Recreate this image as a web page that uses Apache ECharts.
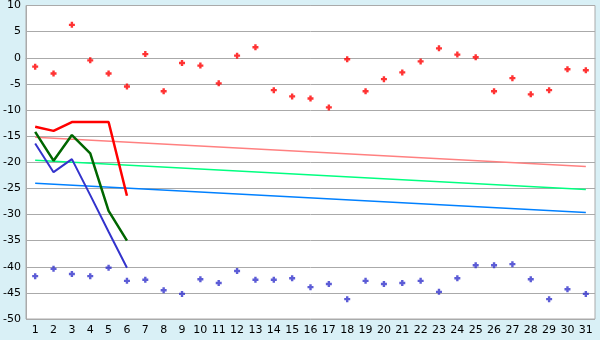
<!DOCTYPE html>
<html><head><meta charset="utf-8">
<script src="https://cdn.jsdelivr.net/npm/echarts@6/dist/echarts.min.js"></script>
<style>html,body{margin:0;padding:0;background:#d9f0f6;}#c{width:600px;height:340px;}</style>
</head><body><div id="c"></div>
<script>
const categories = ['1','2','3','4','5','6','7','8','9','10','11','12','13','14','15','16','17','18','19','20','21','22','23','24','25','26','27','28','29','30','31'];
const redPoints = [-1.7,-3.0,6.3,-0.5,-3.0,-5.5,0.7,-6.4,-1.0,-1.5,-4.9,0.4,2.0,-6.2,-7.4,-7.8,-9.5,-0.3,-6.4,-4.1,-2.8,-0.7,1.8,0.6,0.1,-6.4,-3.9,-7.0,-6.2,-2.2,-2.4];
const bluePoints = [-41.8,-40.4,-41.4,-41.8,-40.2,-42.7,-42.5,-44.5,-45.2,-42.4,-43.1,-40.8,-42.5,-42.5,-42.2,-43.9,-43.3,-46.2,-42.7,-43.3,-43.1,-42.7,-44.8,-42.2,-39.7,-39.7,-39.5,-42.4,-46.2,-44.3,-45.2];
const redLine = [-13.2,-14.0,-12.3,-12.3,-12.3,-26.4];
const greenLine = [-14.2,-19.7,-14.8,-18.3,-29.3,-35.0];
const blueLine = [-16.4,-21.9,-19.4,-26.3,-33.3,-40.2];
const pinkTrend = [-15.2,-20.8];
const greenTrend = [-19.6,-25.2];
const blueTrend = [-24.0,-29.6];
const yTicks = {min:-50,max:10,interval:5};

const plus = 'path://M1.5,0H3.5V1.5H5V3.5H3.5V5H1.5V3.5H0V1.5H1.5Z';
const trend = (v) => [[0, v[0]], [categories.length - 1, v[1]]];
const chart = echarts.init(document.getElementById('c'));
chart.setOption({
  animation:false,
  backgroundColor:'#d9f0f6',
  grid:{left:26,top:5,right:5,bottom:21,show:true,backgroundColor:'#ffffff',borderColor:'#aaaaaa',borderWidth:1},
  xAxis:{type:'category',data:categories,boundaryGap:true,
    axisLine:{lineStyle:{color:'#aaaaaa'}},
    axisTick:{alignWithLabel:true,length:6,lineStyle:{color:'#000'}},
    axisLabel:{interval:0,color:'#000',fontSize:11,fontFamily:'DejaVu Sans',margin:6},
    splitLine:{show:false}},
  yAxis:{type:'value',min:yTicks.min,max:yTicks.max,interval:yTicks.interval,
    axisLine:{show:true,lineStyle:{color:'#aaaaaa'}},
    axisTick:{show:false},
    axisLabel:{color:'#000',fontSize:11,fontFamily:'DejaVu Sans',margin:5},
    splitLine:{lineStyle:{color:'#aaaaaa',width:1}}},
  series:[
    {type:'line',data:trend(pinkTrend),symbol:'none',lineStyle:{color:'#ff8080',width:1.5}},
    {type:'line',data:trend(greenTrend),symbol:'none',lineStyle:{color:'#00ff80',width:1.5}},
    {type:'line',data:trend(blueTrend),symbol:'none',lineStyle:{color:'#0080ff',width:1.5}},
    {type:'line',data:redLine,symbol:'none',lineStyle:{color:'#ff0000',width:2.5}},
    {type:'line',data:greenLine,symbol:'none',lineStyle:{color:'#006600',width:2.5}},
    {type:'line',data:blueLine,symbol:'none',lineStyle:{color:'#3333cc',width:2}},
    {type:'scatter',data:redPoints,symbol:plus,symbolSize:6,itemStyle:{color:'#ff0000'}},
    {type:'scatter',data:bluePoints,symbol:plus,symbolSize:6,itemStyle:{color:'#3333cc'}}
  ]
});
</script></body></html>
